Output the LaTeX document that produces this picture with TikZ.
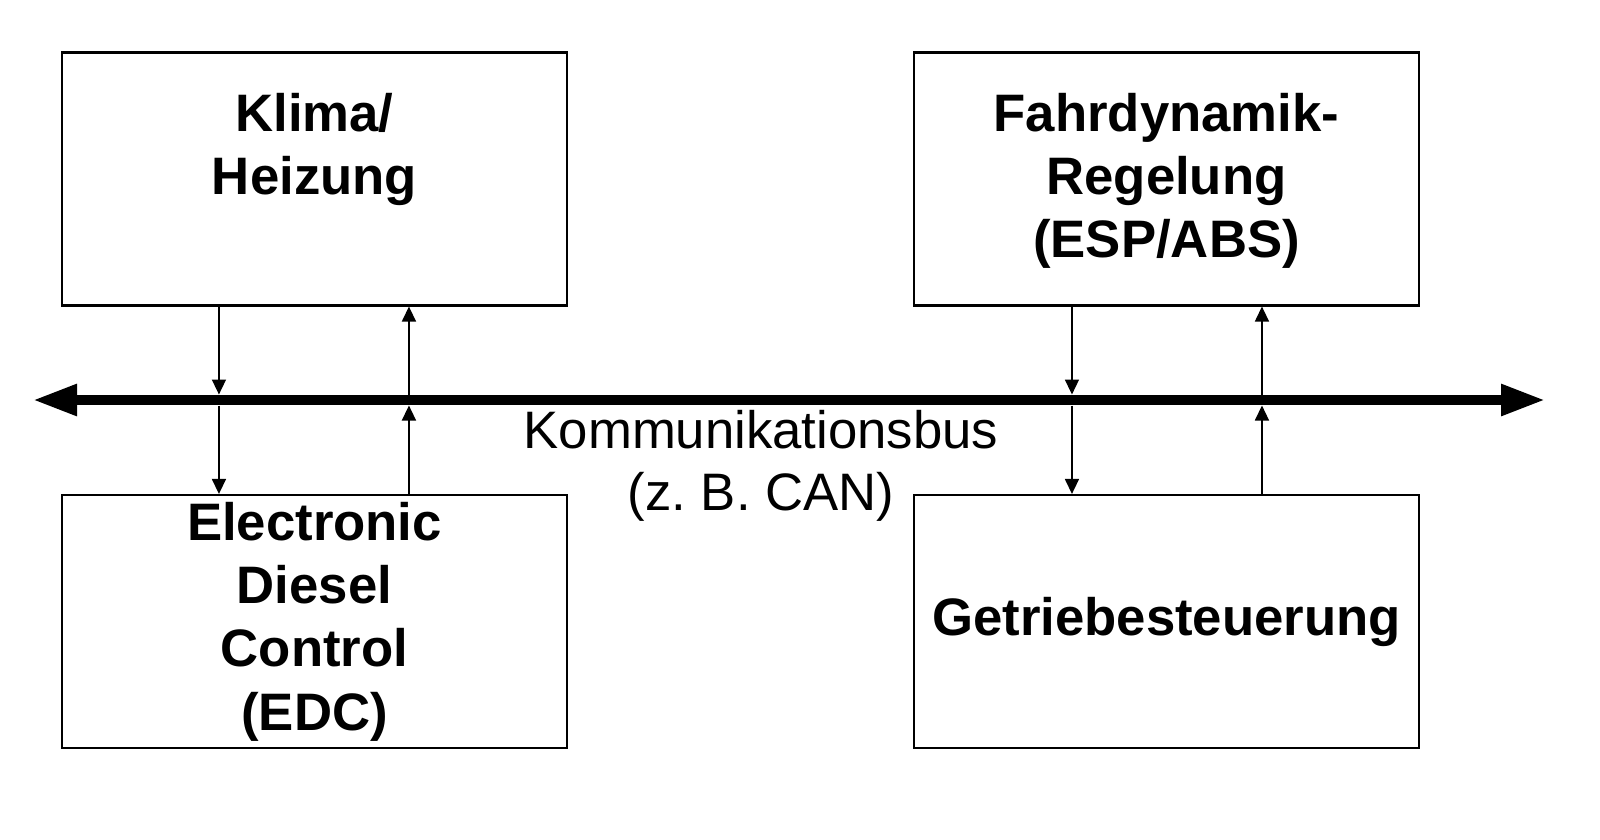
\documentclass[tikz,border=0pt]{standalone}
\usepackage{fontspec}
\setmainfont{Liberation Sans}
\usetikzlibrary{arrows.meta}

\tikzset{
  box/.style={draw, line width=0.6pt, minimum width=5.05cm, minimum height=2.53cm, inner sep=0pt},
  titel/.style={font=\fontsize{15}{18}\selectfont\bfseries, align=center, inner sep=0pt},
  buslabel/.style={font=\fontsize{15}{17.6}\selectfont, align=center, inner sep=0pt},
  sig/.style={-{Triangle[length=1.5mm,width=1.4mm]}, line width=0.45pt},
  bus/.style={{Triangle[length=4.5mm,width=2.9mm]}-{Triangle[length=4.5mm,width=2.9mm]}, line width=3.1pt}
}

\begin{document}
\begin{tikzpicture}
  \useasboundingbox (0,0) rectangle (16,8.39);
  % Steuergeraete
  \node (Kl) at (3.145,6.60)  [box] {};
  \node (Fa) at (11.665,6.60) [box] {};
  \node (Ed) at (3.145,2.175) [box, titel] {Electronic\\Diesel\\Control\\(EDC)};
  \node (Ge) at (11.665,2.175) [box, titel] {Getriebesteuerung};
  \node (KlT) at ([yshift=-0.41cm]Kl.north) [titel, anchor=north] {Klima/\\Heizung};
  \node (FaT) at ([yshift=-0.41cm]Fa.north) [titel, anchor=north] {Fahrdynamik-\\Regelung\\(ESP/ABS)};
  % Bus
  \coordinate (Li) at (0.32,4.39);
  \coordinate (Re) at (15.46,4.39);
  \coordinate (Bo) at (0,4.445);
  \coordinate (Bu) at (0,4.335);
  \draw[bus] (Li) -- (Re);
  \node (Kb) at (7.61,4.29) [buslabel, anchor=north] {Kommunikationsbus\\(z.~B. CAN)};
  % Signale
  \draw[sig] ([xshift=1.58cm]Kl.south west) -- ([xshift=1.58cm]Kl.south west |- Bo);
  \draw[sig] ([xshift=1.58cm]Ed.north west |- Bu) -- ([xshift=1.58cm]Ed.north west);
  \draw[sig] ([xshift=3.48cm]Ed.north west) -- ([xshift=3.48cm]Ed.north west |- Bu);
  \draw[sig] ([xshift=3.48cm]Kl.south west |- Bo) -- ([xshift=3.48cm]Kl.south west);
  \draw[sig] ([xshift=1.59cm]Fa.south west) -- ([xshift=1.59cm]Fa.south west |- Bo);
  \draw[sig] ([xshift=1.59cm]Ge.north west |- Bu) -- ([xshift=1.59cm]Ge.north west);
  \draw[sig] ([xshift=3.49cm]Ge.north west) -- ([xshift=3.49cm]Ge.north west |- Bu);
  \draw[sig] ([xshift=3.49cm]Fa.south west |- Bo) -- ([xshift=3.49cm]Fa.south west);
\end{tikzpicture}
\end{document}
